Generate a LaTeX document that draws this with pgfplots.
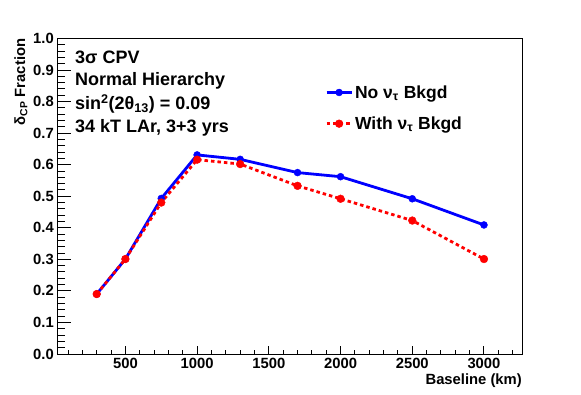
\documentclass[border=0pt]{standalone}
\usepackage{fontspec}
\setmainfont{Liberation Sans}
\usepackage{pgfplots}
\pgfplotsset{compat=1.18}
\definecolor{rblue}{RGB}{0,0,255}
\definecolor{rred}{RGB}{255,0,0}
\begin{document}
\begin{tikzpicture}[x=1pt,y=1pt]
\path[use as bounding box] (0,0) rectangle (581,394);
\pgfplotsset{
  myaxis/.style={
    at={(58pt,40pt)}, anchor=south west,
    scale only axis, width=464.7pt, height=315.5pt,
    xmin=30, xmax=3270, ymin=0, ymax=1,
    axis line style={line width=1pt},
    every tick/.style={black, line width=1pt},
    tick align=inside,
    /pgf/number format/assume math mode=true,
    tick label style={font=\bfseries\fontsize{14.8}{15}\selectfont},
  }
}
\begin{axis}[myaxis,
  xtick=\empty,
  ytick={0,0.1,0.2,0.3,0.4,0.5,0.6,0.7,0.8,0.9,1.0},
  yticklabels={0.0,0.1,0.2,0.3,0.4,0.5,0.6,0.7,0.8,0.9,1.0},
  minor y tick num=4,
  ytick pos=left,
  major tick length=13pt, minor tick length=6.7pt,
  yticklabel style={anchor=east, inner sep=0pt, xshift=-4pt},
  legend style={at={(0.5746,0.852)}, anchor=north west, draw=none, fill=none,
    font=\bfseries\fontsize{17.5}{19}\selectfont, inner sep=0pt,
    row sep=17pt, nodes={inner sep=0pt},
    /tikz/every odd column/.append style={column sep=2pt}},
  legend cell align=left,
  legend image code/.code={%
    \draw[mark repeat=2,mark phase=2,#1] plot coordinates {(0pt,0pt) (12.5pt,0pt) (25pt,0pt)};},
]
\addplot[rblue, line width=2.8pt, mark=*, mark size=3.5pt, mark options={solid, fill=rblue, draw=rblue, line width=0.4pt}]
coordinates {(300,0.190) (500,0.301) (750,0.493) (1000,0.631) (1300,0.617) (1700,0.575) (2000,0.562) (2500,0.492) (3000,0.409)};
\addlegendentry{No ν\textsubscript{τ} Bkgd}
\addplot[rred, line width=2.8pt, dash pattern=on 3.5pt off 3pt, mark=*, mark size=3.9pt, mark options={solid, fill=rred, draw=rred, line width=0.4pt}]
coordinates {(300,0.190) (500,0.301) (750,0.480) (1000,0.616) (1300,0.602) (1700,0.533) (2000,0.492) (2500,0.423) (3000,0.301)};
\addlegendentry{With ν\textsubscript{τ} Bkgd}
\end{axis}
\begin{axis}[myaxis,
  axis line style={draw=none},
  ytick=\empty,
  xtick={500,1000,1500,2000,2500,3000},
  xticklabels={500,1000,1500,2000,2500,3000},
  minor xtick={100,200,300,400,600,700,800,900,1100,1200,1300,1400,1600,1700,1800,1900,2100,2200,2300,2400,2600,2700,2800,2900,3100,3200},
  xtick pos=left,
  major tick length=8pt, minor tick length=4pt,
  xticklabel style={anchor=north, inner sep=0pt, yshift=-4pt},
]
\end{axis}
\begin{scope}[font=\bfseries\fontsize{18}{20}\selectfont]
\node[anchor=base west, inner sep=0pt] at (75,330.7) {3σ CPV};
\node[anchor=base west, inner sep=0pt] at (75,308) {Normal Hierarchy};
\node[anchor=base west, inner sep=0pt] at (75,284.7) {sin\textsuperscript{2}(2θ\textsubscript{13}) = 0.09};
\node[anchor=base west, inner sep=0pt] at (75,261.3) {34 kT LAr, 3+3 yrs};
\end{scope}
\node[anchor=base east, inner sep=0pt, rotate=90, font=\bfseries\fontsize{14.8}{15}\selectfont] at (25,355.5) {δ\textsubscript{CP} Fraction};
\node[anchor=base east, inner sep=0pt, font=\bfseries\fontsize{14.8}{15}\selectfont] at (522,10) {Baseline (km)};
\end{tikzpicture}
\end{document}
